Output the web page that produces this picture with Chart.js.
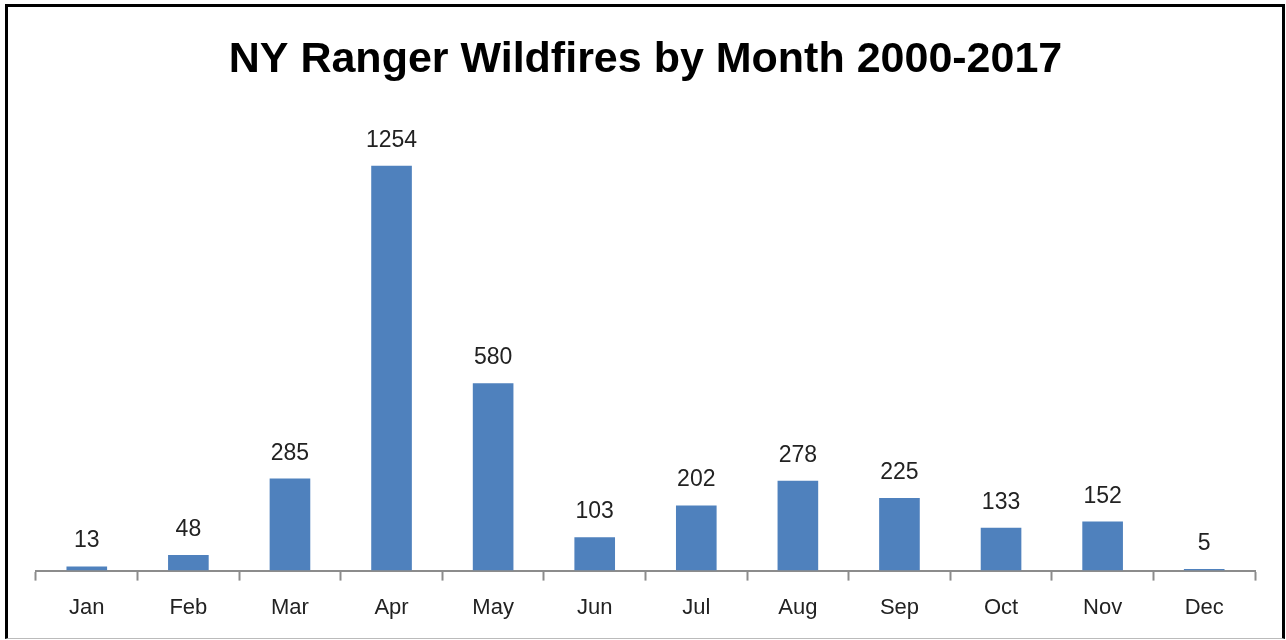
<!DOCTYPE html>
<html>
<head>
<meta charset="utf-8">
<script src="https://cdn.jsdelivr.net/npm/chart.js@4.4.0/dist/chart.umd.min.js"></script>
<style>
  body { margin: 0; background: #fff; }
  #frame {
    position: absolute; left: 5px; top: 4px;
    width: 1274px; height: 631px;
    border-left: 3px solid #000; border-top: 3px solid #000; border-right: 3px solid #000;
    border-bottom: 1px solid #bbb;
  }
</style>
</head>
<body>
<div id="frame"><canvas id="chart" width="1274" height="631"></canvas></div>
<script>
const months = ["Jan", "Feb", "Mar", "Apr", "May", "Jun", "Jul", "Aug", "Sep", "Oct", "Nov", "Dec"];
const fires = [13, 48, 285, 1254, 580, 103, 202, 278, 225, 133, 152, 5];
const titleText = "NY Ranger Wildfires by Month 2000-2017";

// draws the value above each bar, like the excel data labels
const barLabels = {
  id: "barLabels",
  afterDatasetsDraw(chart) {
    const ctx = chart.ctx;
    const meta = chart.getDatasetMeta(0);
    ctx.save();
    ctx.font = "23px 'Liberation Sans', Arial, sans-serif";
    ctx.fillStyle = "#222";
    ctx.textAlign = "center";
    ctx.textBaseline = "alphabetic";
    meta.data.forEach((bar, i) => {
      ctx.fillText(String(fires[i]), bar.x, bar.y - 19);
    });
    ctx.restore();
  }
};

new Chart(document.getElementById("chart"), {
  type: "bar",
  data: {
    labels: months,
    datasets: [{
      data: fires,
      backgroundColor: "#4F81BD",
      barPercentage: 0.4,
      categoryPercentage: 1.0
    }]
  },
  options: {
    responsive: false,
    animation: false,
    layout: { padding: { left: 28, right: 27, top: 0, bottom: 3 } },
    plugins: {
      legend: { display: false },
      tooltip: { enabled: false },
      title: {
        display: true,
        text: titleText,
        color: "#000",
        font: { family: "'Liberation Sans', Arial, sans-serif", size: 43, weight: "bold" },
        padding: { top: 27, bottom: 33 }
      }
    },
    scales: {
      x: {
        offset: true,
        grid: {
          offset: true,
          drawOnChartArea: false,
          drawTicks: true,
          tickLength: 10,
          tickWidth: 2,
          tickColor: "#8c8c8c"
        },
        border: { display: true, color: "#8c8c8c", width: 2 },
        ticks: {
          color: "#222",
          padding: 14,
          font: { family: "'Liberation Sans', Arial, sans-serif", size: 22 }
        }
      },
      y: {
        display: false,
        min: 0,
        max: 1400
      }
    }
  },
  plugins: [barLabels]
});
</script>
</body>
</html>
